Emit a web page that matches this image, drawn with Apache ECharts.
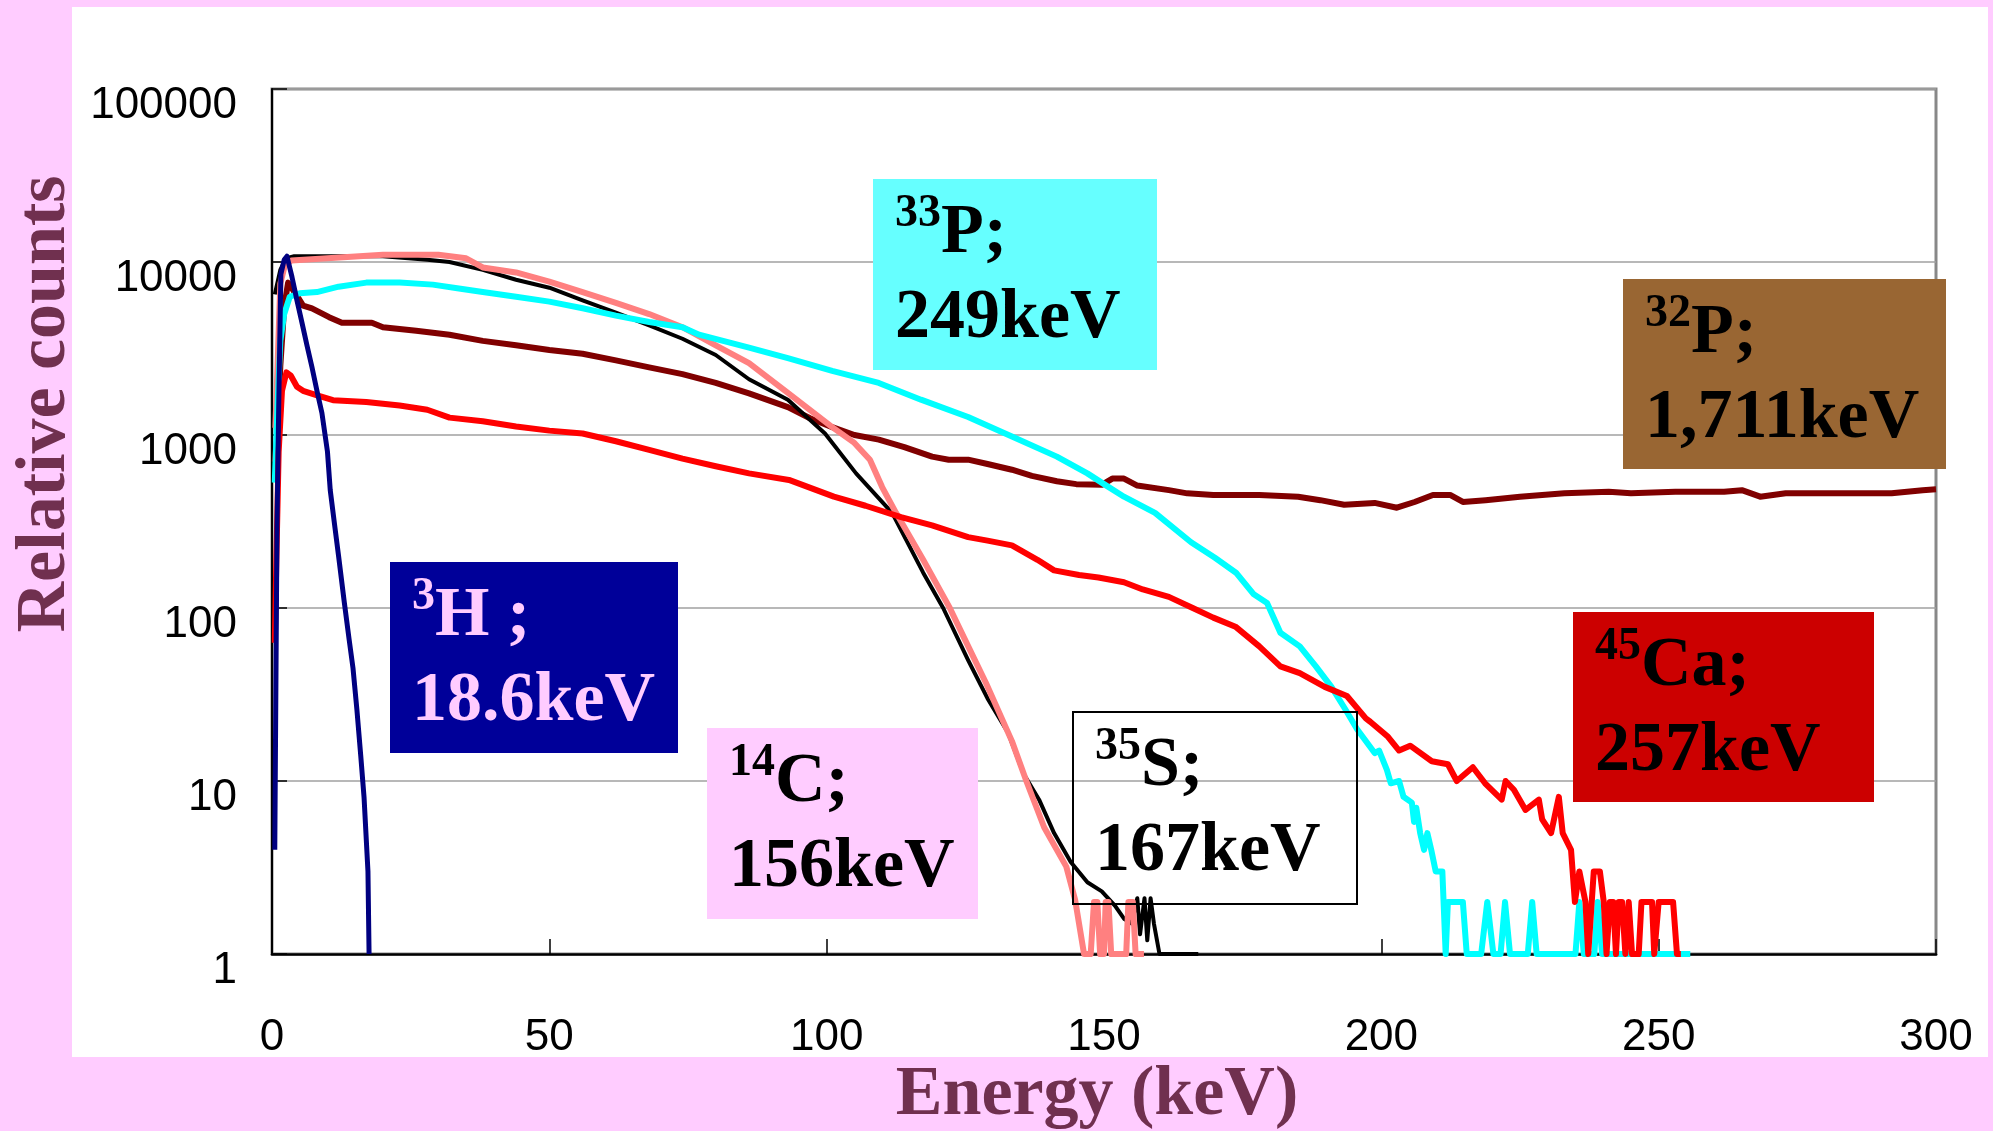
<!DOCTYPE html>
<html>
<head>
<meta charset="utf-8">
<script src="https://cdn.jsdelivr.net/npm/echarts@6/dist/echarts.min.js"></script>
<style>
  html, body { margin: 0; padding: 0; background: #ffccff; }
  #chart { width: 1993px; height: 1131px; }
</style>
</head>
<body>
<div id="chart"></div>
<script>
// energy (keV), relative counts
var h3 = [[0.5,4],[0.9,300],[1.2,1400],[1.6,8500],[2.2,10300],[2.7,10800],[3.6,8200],[4.5,6000],[5.4,4460],[6.3,3300],[7.2,2470],[8.1,1800],[9.0,1340],[10.0,800],[10.5,480],[11.3,300],[12.0,200],[13.0,110],[13.9,66],[14.6,45],[15.3,26],[16.0,14],[16.6,8],[17.3,3],[17.5,1]];

var s35 = [[0.5,6500],[1.5,9000],[2.5,10500],[4,10800],[10,10800],[20,10800],[28,10300],[32,10000],[38,9000],[44,7900],[50,7100],[56,6000],[62,5100],[68,4300],[74,3600],[80,2900],[86,2100],[93,1600],[99.7,1020],[105.3,600],[111.8,355],[117.4,160],[121,100],[125.5,50],[129,30],[132.7,19],[135.5,11],[138.3,7.8],[141,5],[144,3.4],[147,2.6],[149.6,2.3],[152,1.9],[153.6,1.6],[155,1.5],[156,2.1],[156.5,1.3],[157.3,2.1],[157.8,1.2],[158.4,2.1],[159,1.5],[160,1],[167,1]];

var c14 = [[0.6,1100],[1.0,2500],[1.5,7500],[2.3,9500],[3.5,10200],[10,10500],[20,11000],[30,11000],[35,10500],[38,9300],[44,8700],[50,7700],[56,6700],[62,5800],[68,5000],[74,4200],[80,3300],[86,2600],[93,1750],[101,1110],[105,900],[107.8,720],[110,500],[112.5,355],[117.4,190],[122.2,100],[125,65],[128.7,37],[133.4,17],[136,10],[139.2,5.4],[143.2,3.2],[144.8,2.05],[146.4,1],[147.6,1],[148.2,2],[148.8,2],[149.3,1],[150,1],[150.3,2],[150.8,2],[151.3,1],[154,1],[154.4,2],[155.2,2],[155.7,1],[157.2,1]];

var p33 = [[0.5,530],[1.0,1500],[1.5,3500],[2.2,5000],[3.2,6300],[5,6600],[8.1,6700],[12,7200],[17,7600],[23,7600],[29,7400],[34,7000],[38,6700],[44,6300],[50,5900],[56,5400],[62,4900],[68,4500],[74,4200],[77,3800],[86,3200],[93,2780],[101,2350],[109.4,2000],[117,1600],[125.5,1270],[133.4,980],[141.5,750],[147,600],[150,520],[153.6,440],[159.2,355],[165.7,240],[170,195],[173.8,160],[177,120],[179.4,107],[181.8,72],[185.3,60],[188.2,46],[191,35],[193.5,26],[195.6,20],[198.8,14.5],[199.6,15],[201,11.6],[201.7,9.7],[203.2,10],[204,8.1],[205.5,7.5],[205.9,5.8],[206.3,7],[207,5],[207.7,4],[208.3,5],[209,4],[209.8,3],[211,3],[211.6,1],[212,2],[214.7,2],[215.4,1],[218,1],[219.1,2],[220.2,1],[221.5,1],[222.3,2],[223.2,1],[226.4,1],[227.2,2],[228,1],[235,1],[235.7,2],[236.5,1],[238.4,1],[239,2],[239.8,1],[255.7,1]];

var p32 = [[0.5,700],[1.0,1000],[1.5,2500],[2.2,5500],[2.9,7600],[4.2,6600],[5.6,5600],[7.2,5400],[10.3,4800],[12.6,4460],[18,4460],[20,4200],[26,4000],[32,3800],[38,3500],[44,3300],[50,3100],[56,2950],[62,2700],[68,2460],[74,2250],[80,2000],[86,1740],[93,1450],[97,1250],[101,1110],[105,1000],[109.4,940],[114,850],[119,750],[122,720],[125.5,720],[129,680],[133.4,630],[137,580],[141.5,540],[145,520],[149.6,515],[151.5,560],[153.6,560],[156,510],[161.7,480],[165,460],[169.7,450],[178,450],[185,440],[189,420],[193.3,395],[198.8,405],[202.8,380],[206,410],[209.3,450],[212.4,450],[214.7,410],[218.8,420],[225,440],[233,460],[241,470],[245,460],[253,470],[261.8,470],[265,480],[268.3,440],[272.9,460],[280,460],[292,460],[297.6,480],[300,485]];

var ca45 = [[0.5,63],[0.8,200],[1.2,800],[1.8,1800],[2.6,2300],[3.4,2200],[4.5,1900],[5.6,1800],[8,1700],[11,1590],[17,1550],[23,1480],[28,1400],[32,1260],[38,1200],[44,1120],[50,1060],[56,1020],[62,920],[68,820],[74,730],[80,660],[86,600],[93.2,550],[101.3,440],[107,390],[113.4,335],[119,300],[125.5,257],[129,245],[133.4,230],[138,190],[141,165],[145.5,155],[149,150],[153.6,141],[157,128],[161.7,116],[166,100],[169.7,88],[173.7,78],[178,60],[181.8,46],[185.3,42],[189.8,35],[193.8,31],[197.2,23],[198,22],[201.2,18],[203.2,15],[205.2,16],[209.1,13],[212,12.5],[213.6,10],[216.5,12],[218.7,9.7],[221.7,7.8],[222.4,10],[223.9,8.9],[226,6.8],[228.4,7.8],[229,6],[230.6,5],[232,8.1],[232.7,5],[234.2,4],[234.9,2],[235.7,3],[236.8,2],[237.3,1],[238.3,3],[239.4,3],[240.1,2],[240.6,1],[241.2,2],[241.8,2],[242.3,1],[242.8,2],[243.4,2],[244,1],[244.6,2],[245.2,1],[246.4,1],[246.9,2],[248.8,2],[249.2,1],[250,2],[252.6,2],[253.3,1],[254,1]];

// label boxes: nuclide, mass number, end-point energy
var boxes = [
  { sup: "33", el: "P;", energy: "249keV", x: 873, y: 179, w: 284, h: 191, fill: "#66ffff", text: "#000" },
  { sup: "32", el: "P;", energy: "1,711keV", x: 1623, y: 279, w: 323, h: 190, fill: "#996633", text: "#000" },
  { sup: "3", el: "H ;", energy: "18.6keV", x: 390, y: 562, w: 288, h: 191, fill: "#000099", text: "#ffccff" },
  { sup: "45", el: "Ca;", energy: "257keV", x: 1573, y: 612, w: 301, h: 190, fill: "#cc0000", text: "#000" },
  { sup: "14", el: "C;", energy: "156keV", x: 707, y: 728, w: 271, h: 191, fill: "#ffccff", text: "#000" },
  { sup: "35", el: "S;", energy: "167keV", x: 1073, y: 712, w: 284, h: 192, fill: null, text: "#000" }
];

var serif = '"Liberation Serif", "Times New Roman", serif';
var sans = '"Liberation Sans", Arial, sans-serif';

var chartDom = document.getElementById("chart");
var myChart = echarts.init(chartDom);

function line(name, data, color, width) {
  return {
    name: name,
    type: "line",
    data: data,
    symbol: "none",
    lineStyle: { color: color, width: width, join: "round" },
    animation: false,
    z: 3
  };
}

var graphics = [
  { type: "rect", z: -1, shape: { x: 72, y: 7, width: 1916, height: 1050 }, style: { fill: "#ffffff" } },
  {
    type: "text", x: 46, y: 404, rotation: Math.PI / 2,
    style: { text: "Relative counts", font: "bold 70px " + serif, fill: "#70304f", align: "center", verticalAlign: "middle" }
  },
  {
    type: "text", x: 1097, y: 1096,
    style: { text: "Energy (keV)", font: "bold 70px " + serif, fill: "#70304f", align: "center", verticalAlign: "middle" }
  }
];

boxes.forEach(function (b) {
  graphics.push({
    type: "rect", z: 100,
    shape: { x: b.x, y: b.y, width: b.w, height: b.h },
    style: b.fill ? { fill: b.fill } : { fill: "transparent", stroke: "#000", lineWidth: 2 }
  });
  graphics.push({
    type: "text", z: 101, x: b.x + 22, y: b.y + 12,
    style: {
      text: "{s|" + b.sup + "}{m|" + b.el + "}\n{m|" + b.energy + "}",
      align: "left", verticalAlign: "top",
      rich: {
        s: { fontFamily: serif, fontWeight: "bold", fontSize: 46, lineHeight: 57, verticalAlign: "top", fill: b.text, color: b.text },
        m: { fontFamily: serif, fontWeight: "bold", fontSize: 70, lineHeight: 85, fill: b.text, color: b.text }
      }
    }
  });
});

var option = {
  backgroundColor: "#ffccff",
  animation: false,
  grid: { left: 272, top: 89, width: 1664, height: 865, show: true, borderColor: "#888888", borderWidth: 3, backgroundColor: "transparent" },
  xAxis: {
    type: "value", min: 0, max: 300, interval: 50,
    axisLine: { lineStyle: { color: "#000", width: 2.5 } },
    axisTick: { inside: true, length: 15, lineStyle: { color: "#000", width: 1.5 } },
    axisLabel: { margin: 62, fontFamily: sans, fontSize: 44, color: "#000" },
    splitLine: { show: false }
  },
  yAxis: {
    type: "log", logBase: 10, min: 1, max: 100000,
    axisLine: { show: true, lineStyle: { color: "#000", width: 2 } },
    axisTick: { show: true, inside: true, length: 15, lineStyle: { color: "#000", width: 1.5 } },
    axisLabel: {
      margin: 35, fontFamily: sans, fontSize: 44, color: "#000",
      verticalAlign: "top", lineHeight: 33,
      formatter: function (v) { return String(Math.round(v)); }
    },
    splitLine: { show: true, lineStyle: { color: "#a0a0a0", width: 1.5 } },
    minorTick: { show: false }
  },
  series: [
    line("32P", p32, "#800000", 6),
    line("35S", s35, "#000000", 4),
    line("14C", c14, "#ff8080", 6),
    line("33P", p33, "#00ffff", 6),
    line("45Ca", ca45, "#ff0000", 6),
    line("3H", h3, "#000080", 5)
  ],
  graphic: graphics
};

myChart.setOption(option);
window.addEventListener("resize", function () {
  myChart.resize();
});
</script>
</body>
</html>
